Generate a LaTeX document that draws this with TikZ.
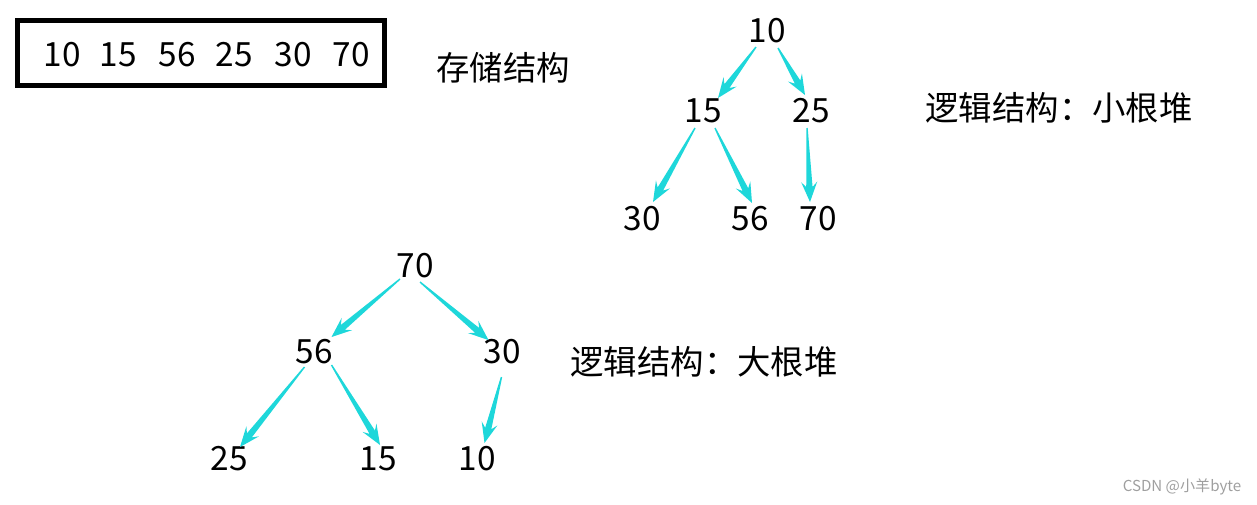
\documentclass[tikz,border=0pt]{standalone}
\usepackage{fontspec}
\setmainfont{Noto Sans CJK SC}
\usetikzlibrary{calc}
\definecolor{heapcyan}{RGB}{30,215,218}
\newcommand{\heapfont}{\fontsize{19}{23}\selectfont}
% tapered arrow: parent node, offset, child node, offset
\newcommand{\heaparrow}[4]{%
  \coordinate (hs) at ($(#1)+#2$);
  \coordinate (ht) at ($(#3)+#4$);
  \coordinate (hn) at ($(ht)!8.5pt!(hs)$);
  \coordinate (hb) at ($(ht)!11.5pt!(hs)$);
  \fill[heapcyan] ($(hs)!0.4pt!90:(ht)$) -- ($(hn)!1.8pt!-90:(hs)$)
    -- ($(hb)!4.6pt!-90:(hs)$) -- (ht) -- ($(hb)!4.6pt!90:(hs)$)
    -- ($(hn)!1.8pt!90:(hs)$) -- ($(hs)!0.4pt!-90:(ht)$) -- cycle;}
\begin{document}
\begin{tikzpicture}[x=0.02cm, y=-0.02cm,
  heapnum/.style={font=\heapfont, inner sep=0pt},
  heaptext/.style={font=\heapfont, inner sep=0pt}]
  \useasboundingbox (0,0) rectangle (1257,504);
  % ---------- storage: the array ----------
  \node[draw, line width=2.8pt, minimum width=7.34cm,
    minimum height=1.3cm] (store) at (201,53) {};
  \node[heapnum] (a1) at (62,54.5) {10};
  \node[heapnum] (a2) at (118,54.5) {15};
  \node[heapnum] (a3) at (177.5,54.5) {56};
  \node[heapnum] (a4) at (234,54.5) {25};
  \node[heapnum] (a5) at (293,54.5) {30};
  \node[heapnum] (a6) at (351.5,54.5) {70};
  \node[heaptext] (storetext) at (503,68) {存储结构};
  % ---------- small root heap ----------
  \node[heapnum] (s10) at (767,31) {10};
  \node[heapnum] (s15) at (703,111) {15};
  \node[heapnum] (s25) at (811,111) {25};
  \node[heapnum] (s30) at (642,219) {30};
  \node[heapnum] (s56) at (750,219) {56};
  \node[heapnum] (s70) at (818,219) {70};
  \node[heaptext] (smalltext) at (1059,108) {逻辑结构：小根堆};
  \heaparrow{s10}{(-11,16)}{s15}{(15,-13)}
  \heaparrow{s10}{(11,17)}{s25}{(-6,-16)}
  \heaparrow{s15}{(-8,17)}{s30}{(11,-17)}
  \heaparrow{s15}{(12,17)}{s56}{(2,-16)}
  \heaparrow{s25}{(-4,17)}{s70}{(-8,-17)}
  % ---------- big root heap ----------
  \node[heapnum] (b70) at (415,266) {70};
  \node[heapnum] (b56) at (314.5,352) {56};
  \node[heapnum] (b30) at (502.5,352) {30};
  \node[heapnum] (b25) at (229,459) {25};
  \node[heapnum] (b15) at (378,459) {15};
  \node[heapnum] (b10) at (477.5,459) {10};
  \node[heaptext] (bigtext) at (704,362) {逻辑结构：大根堆};
  \heaparrow{b70}{(-15,13)}{b56}{(17,-15)}
  \heaparrow{b70}{(5,16)}{b30}{(-14,-12)}
  \heaparrow{b56}{(-10,15)}{b25}{(11,-12)}
  \heaparrow{b56}{(17,13)}{b15}{(2,-14)}
  \heaparrow{b30}{(-1,25)}{b10}{(7,-16)}
  % watermark
  \node[font=\fontsize{8.6}{10}\selectfont, text=gray!75, inner sep=0pt]
    (mark) at (1182,487) {CSDN @小羊byte};
\end{tikzpicture}
\end{document}
